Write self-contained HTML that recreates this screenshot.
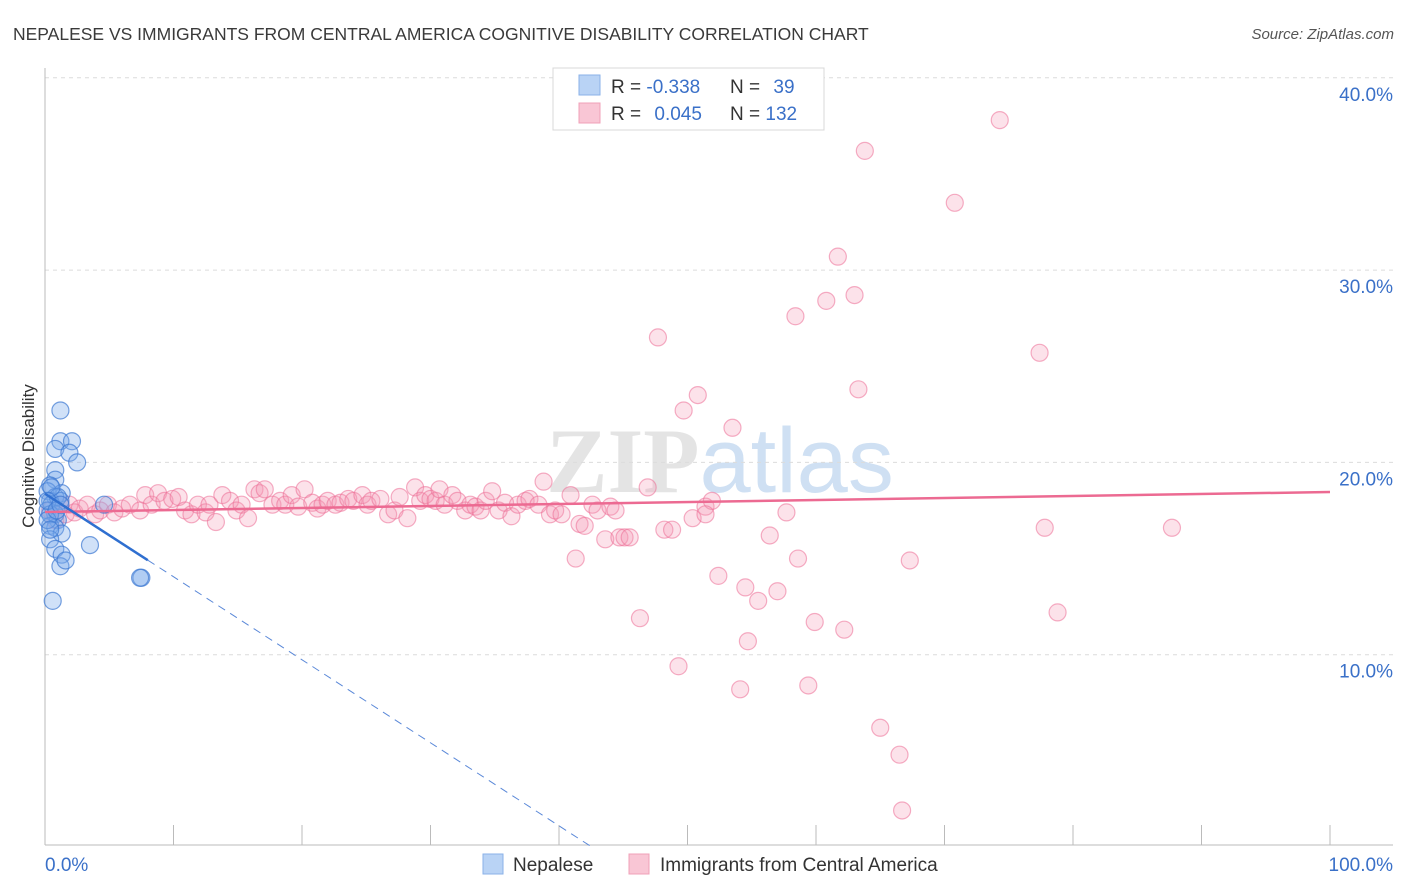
<!DOCTYPE html>
<html><head><meta charset="utf-8"><style>
body{margin:0;background:#fff;font-family:"Liberation Sans",sans-serif;}
</style></head><body>
<svg id="chart" width="1406" height="892" xmlns="http://www.w3.org/2000/svg" style="display:block">
<text x="13" y="40" font-size="17.5" fill="#3a3a3a" font-family="Liberation Sans, sans-serif">NEPALESE VS IMMIGRANTS FROM CENTRAL AMERICA COGNITIVE DISABILITY CORRELATION CHART</text>
<text x="1394" y="39" font-size="15" fill="#555" text-anchor="end" font-style="italic" font-family="Liberation Sans, sans-serif">Source: ZipAtlas.com</text>
<text transform="translate(34,456) rotate(-90)" font-size="17" fill="#333" text-anchor="middle" font-family="Liberation Sans, sans-serif">Cognitive Disability</text>
<text x="720" y="492" font-size="92" text-anchor="middle" font-family="Liberation Serif, serif" fill="#e4e4e4" font-weight="bold">ZIP<tspan fill="#cfe0f3" font-family="Liberation Sans, sans-serif" font-weight="normal">atlas</tspan></text>
<g id="grid"></g><g id="axes"></g><g id="pts"></g><g id="lines"></g>
<g>
<rect x="553" y="68" width="271" height="62" fill="#fff" stroke="#d8d8d8"/>
<rect x="579" y="75" width="21" height="20" fill="#b9d3f5" stroke="#8ab2e8"/>
<rect x="579" y="103" width="21" height="20" fill="#f9c6d5" stroke="#f0a0b8"/>
<text x="611" y="93" font-size="19" fill="#333">R = <tspan fill="#3a70c8">-0.338</tspan></text>
<text x="730" y="93" font-size="19" fill="#333">N = <tspan fill="#3a70c8" dx="8">39</tspan></text>
<text x="611" y="120" font-size="19" fill="#333">R = <tspan fill="#3a70c8" dx="8">0.045</tspan></text>
<text x="730" y="120" font-size="19" fill="#333">N = <tspan fill="#3a70c8">132</tspan></text>
</g>
<g>
<rect x="483" y="854" width="20" height="20" fill="#b9d3f5" stroke="#8ab2e8"/>
<text x="513" y="871" font-size="19" fill="#333">Nepalese</text>
<rect x="629" y="854" width="20" height="20" fill="#f9c6d5" stroke="#f0a0b8"/>
<text x="660" y="871" font-size="19" fill="#333">Immigrants from Central America</text>
</g>
</svg>
<script>
const blueX=[1.2,1.2,2.1,0.8,1.9,2.5,0.8,0.8,0.4,1.3,0.2,0.8,0.4,1.2,0.5,0.2,0.8,1.0,0.4,0.8,1.3,0.4,0.8,3.5,1.3,1.2,1.6,0.6,7.5,7.4,4.6,0.4,0.2,1.0,0.5,0.2,0.4,0.9,1.2];
const blueY=[22.7,21.1,21.1,20.7,20.5,20.0,19.6,19.1,18.8,18.4,18.5,18.2,18.0,18.0,17.8,17.5,17.3,17.0,16.7,16.6,16.3,16.0,15.5,15.7,15.2,14.6,14.9,12.8,14.0,14.0,17.8,17.3,17.0,18.2,18.7,18.0,16.5,17.5,17.8];
const pinkX=[0.4,0.8,1.2,1.6,1.9,2.3,2.7,3.3,3.9,4.3,4.9,5.4,6.0,6.6,7.4,7.8,8.3,8.8,9.3,9.9,10.4,10.9,11.4,11.9,12.5,12.8,13.3,13.8,14.4,14.9,15.3,15.8,16.3,16.7,17.1,17.7,18.3,18.7,19.2,19.7,20.2,20.8,21.2,21.6,22.0,22.6,23.0,23.6,24.0,24.7,25.1,25.4,26.1,26.7,27.2,27.6,28.2,28.8,29.2,29.6,30.0,30.4,30.7,31.1,31.7,32.1,32.7,33.1,33.5,33.9,34.3,34.8,35.3,35.8,36.3,36.8,37.4,37.7,38.4,38.8,39.3,39.7,40.2,40.9,41.3,41.6,42.0,42.6,43.0,43.6,44.0,44.4,44.7,45.1,45.5,46.3,46.9,47.7,48.2,48.8,49.3,49.7,50.4,50.8,51.4,51.9,52.4,53.5,54.1,54.5,54.7,55.5,56.4,57.0,57.7,58.4,58.6,59.4,59.9,60.8,61.7,62.2,63.0,63.3,63.8,65.0,66.5,66.7,67.3,70.8,74.3,77.4,77.8,78.8,87.7,51.4];
const pinkY=[17.5,17.0,17.8,17.3,17.8,17.4,17.6,17.8,17.3,17.5,17.8,17.4,17.6,17.8,17.5,18.3,17.8,18.4,18.0,18.1,18.2,17.5,17.3,17.8,17.4,17.8,16.9,18.3,18.0,17.5,17.8,17.1,18.6,18.4,18.6,17.8,18.0,17.8,18.3,17.7,18.6,17.9,17.6,17.8,18.0,17.8,17.9,18.1,18.0,18.3,17.8,18.0,18.1,17.3,17.5,18.2,17.1,18.7,18.0,18.3,18.1,18.0,18.6,17.8,18.3,18.0,17.5,17.8,17.7,17.5,18.0,18.5,17.5,17.9,17.2,17.8,18.0,18.1,17.8,19.0,17.3,17.5,17.3,18.3,15.0,16.8,16.7,17.8,17.5,16.0,17.7,17.5,16.1,16.1,16.1,11.9,18.7,26.5,16.5,16.5,9.4,22.7,17.1,23.5,17.7,18.0,14.1,21.8,8.2,13.5,10.7,12.8,16.2,13.3,17.4,27.6,15.0,8.4,11.7,28.4,30.7,11.3,28.7,23.8,36.2,6.2,4.8,1.9,14.9,33.5,37.8,25.7,16.6,12.2,16.6,17.3];
const xTickLabels=["0.0%","100.0%"];
const yTicks=[10,20,30,40];
const blueTrend=[18.37,-24.8];
const pinkTrend=[17.42,18.46];
const blueSolidEnd=8;

const NS="http://www.w3.org/2000/svg";
const X0=45,X1=1330,YB=847,PX_PER=19.23;
function sx(v){return X0+(X1-X0)*v/100;}
function sy(v){return YB-v*PX_PER;}
function mk(tag,attrs,parent){const e=document.createElementNS(NS,tag);for(const k in attrs)e.setAttribute(k,attrs[k]);parent.appendChild(e);return e;}
const grid=document.getElementById('grid'),axes=document.getElementById('axes'),pts=document.getElementById('pts'),lines=document.getElementById('lines');
yTicks.forEach(t=>{
  const g=mk('line',{x1:X0,x2:1393,y1:sy(t),y2:sy(t),stroke:'#dcdcdc','stroke-dasharray':'4,4'},grid);
  
  
  const l=mk('text',{x:1393,y:sy(t)+23,'text-anchor':'end','font-size':19,fill:'#3a70c8'},axes);
  l.textContent=t.toFixed(1)+'%';
  
  
});
const ya=mk('line',{x1:X0,x2:X0,y1:68,y2:845,stroke:'#bbb'},axes);


const xa=mk('line',{x1:X0,x2:1393,y1:845,y2:845,stroke:'#bbb'},axes);


for(let i=1;i<=10;i++){
  const tk=mk('line',{x1:sx(i*10),x2:sx(i*10),y1:825,y2:845,stroke:'#bbb'},axes);
  
  
}
const xl0=mk('text',{x:X0,y:871,'font-size':19,fill:'#3a70c8'},axes);
xl0.textContent=xTickLabels[0];


const xl1=mk('text',{x:1393,y:871,'font-size':19,fill:'#3a70c8','text-anchor':'end'},axes);
xl1.textContent=xTickLabels[1];


pinkX.forEach((x,i)=>{
  const c=mk('circle',{cx:sx(x),cy:sy(pinkY[i]),r:8.5,fill:'rgba(244,150,180,0.28)',stroke:'rgba(236,110,150,0.55)','stroke-width':1.2},pts);
  
  
});
blueX.forEach((x,i)=>{
  const c=mk('circle',{cx:sx(x),cy:sy(blueY[i]),r:8.5,fill:'rgba(120,170,235,0.35)',stroke:'rgba(60,120,210,0.7)','stroke-width':1.2},pts);
  
  
});
const pl=mk('line',{x1:sx(0),y1:sy(pinkTrend[0]),x2:sx(100),y2:sy(pinkTrend[1]),stroke:'#ec6a92','stroke-width':2.5},lines);


function by(x){return blueTrend[0]+(blueTrend[1]-blueTrend[0])*x/100;}
const bs=mk('line',{x1:sx(0),y1:sy(by(0)),x2:sx(blueSolidEnd),y2:sy(by(blueSolidEnd)),stroke:'#2f6fd0','stroke-width':2.5},lines);


const xz=blueTrend[0]/(blueTrend[0]-blueTrend[1])*100;
const bd=mk('line',{x1:sx(blueSolidEnd),y1:sy(by(blueSolidEnd)),x2:sx(xz),y2:sy(0),stroke:'#5a88d8','stroke-width':1,'stroke-dasharray':'8,6'},lines);


</script>
</body></html>
